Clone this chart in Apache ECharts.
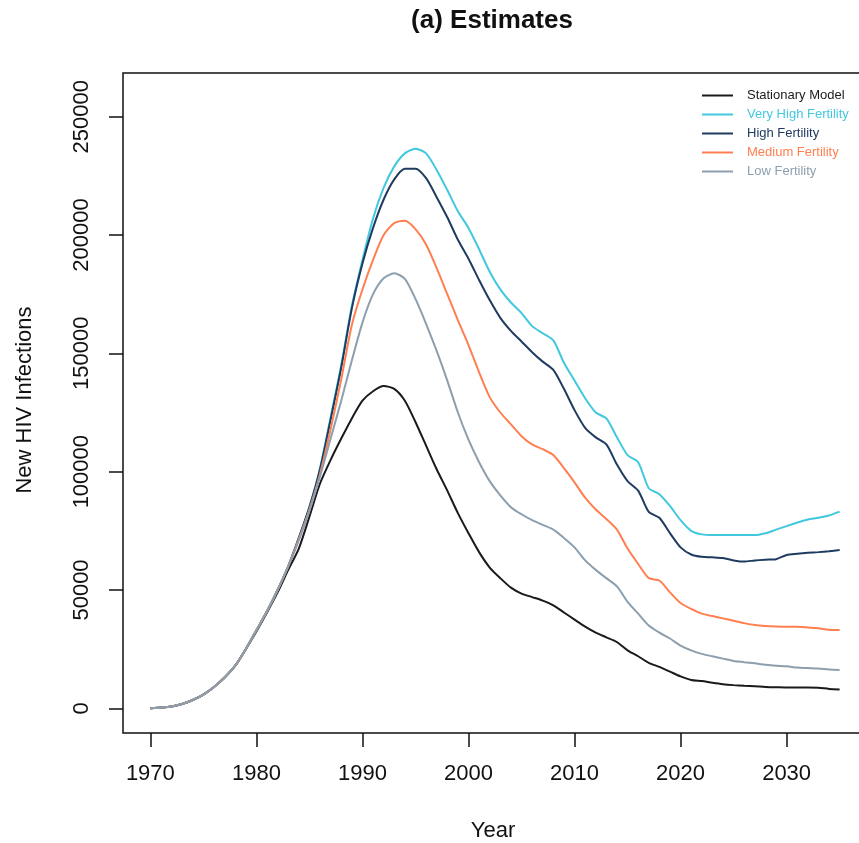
<!DOCTYPE html>
<html><head><meta charset="utf-8">
<script src="https://cdn.jsdelivr.net/npm/echarts@6/dist/echarts.min.js"></script>
<style>html,body{margin:0;padding:0;background:#fff;overflow:hidden;width:859px;height:843px}#main{width:880px;height:843px}</style>
</head><body><div id="main"></div>
<script>
const years = [1970,1971,1972,1973,1974,1975,1976,1977,1978,1979,1980,1981,1982,1983,1984,1985,1986,1987,1988,1989,1990,1991,1992,1993,1994,1995,1996,1997,1998,1999,2000,2001,2002,2003,2004,2005,2006,2007,2008,2009,2010,2011,2012,2013,2014,2015,2016,2017,2018,2019,2020,2021,2022,2023,2024,2025,2026,2027,2028,2029,2030,2031,2032,2033,2034,2035];
const xTicks = [1970,1980,1990,2000,2010,2020,2030];
const yTicks = [0,50000,100000,150000,200000,250000];
const stationary = [0,300,800,1800,3500,5800,9000,13000,18000,25000,32500,40500,49000,58500,
 67500,81000,95000,105000,114000,122500,130000,134000,136200,135000,130000,121000,111000,101000,92000,82500,
 74000,66000,59500,55000,51000,48500,47000,45500,43500,40500,37500,34500,32000,30000,28000,24500,22000,19200,17500,15500,
 13500,12000,11500,10800,10200,9800,9500,9300,9000,8900,8800,8800,8800,8700,8200,8000];
const veryHigh = [0,300,800,1800,3500,5800,9000,13000,18000,25000,33000,41000,50000,60000,
 72000,85000,101500,123000,145000,170000,189500,207000,220000,229000,234500,236500,234500,227500,219000,210000,
 203000,194000,184500,177000,171500,167000,161500,158500,155500,146000,138500,131000,125000,122500,114500,107000,104000,93000,90500,85500,
 79500,75000,73500,73200,73200,73200,73200,73200,74000,75500,77000,78500,79800,80500,81500,83100];
const high = [0,300,800,1800,3500,5800,9000,13000,18000,25000,33000,41000,50000,60000,
 72000,85000,101000,122000,144000,169000,188000,203000,215000,223500,228000,228000,224000,216000,207500,198000,
 190000,181000,172500,165000,159500,155000,150500,146500,143000,135000,126000,118500,114500,111500,103000,96000,92000,83000,80500,74000,
 68000,65000,64000,63800,63500,62500,62000,62500,62800,63000,64800,65300,65700,66000,66400,66900];
const medium = [0,300,800,1800,3500,5800,9000,13000,18000,25000,33000,41000,50000,60000,
 71500,84000,99000,118000,139000,162000,177000,189500,200000,205000,206000,202500,196000,186000,175000,164000,
 153500,142000,131500,125000,120000,115000,111500,109500,107000,101500,95500,89000,84000,80000,75500,67500,61000,55000,54000,49000,
 44500,42000,40000,39000,38000,37000,36000,35200,34800,34600,34500,34500,34200,33800,33200,33100];
const low = [0,300,800,1800,3500,5800,9000,13000,18000,25000,33000,41000,50000,60000,
 71000,83500,98000,114000,130000,147000,163000,175000,181700,183800,181500,173000,162500,151000,138500,125000,
 113500,104000,96000,90000,85000,82000,79500,77500,75500,72000,68000,62500,58500,55000,51500,45000,40000,35000,32000,29500,
 26500,24500,23000,22000,21000,20000,19500,19000,18400,18000,17800,17200,17000,16800,16400,16200];

const seriesDefs = [
  {name:'Stationary Model', data:stationary, color:'#1a1a1a'},
  {name:'Very High Fertility', data:veryHigh, color:'#41c8df'},
  {name:'High Fertility', data:high, color:'#1f3b60'},
  {name:'Medium Fertility', data:medium, color:'#ff7f50'},
  {name:'Low Fertility', data:low, color:'#8c9fae'}
];
const FONT = 'Liberation Sans, Arial, sans-serif';
const chart = echarts.init(document.getElementById('main'), null, {renderer:'canvas'});
chart.setOption({
  animation:false,
  backgroundColor:'#fff',
  grid:{left:123, top:73, width:744, height:660, show:true, borderColor:'#111', borderWidth:1.5, backgroundColor:'transparent'},
  xAxis:{type:'value', min:1967.42, max:2037.58, position:'bottom',
    axisLine:{show:false, onZero:false},
    splitLine:{show:false},
    axisTick:{show:true, length:14, inside:false, lineStyle:{color:'#111', width:1.5}, customValues:xTicks},
    axisLabel:{customValues:xTicks, fontSize:22, fontFamily:FONT, color:'#111', margin:30, formatter:v=>String(v)}
  },
  yAxis:{type:'value', min:-10430, max:268460, position:'left',
    axisLine:{show:false, onZero:false},
    splitLine:{show:false},
    axisTick:{show:true, length:14, inside:false, lineStyle:{color:'#111', width:1.5}, customValues:yTicks},
    axisLabel:{customValues:yTicks, fontSize:22, fontFamily:FONT, color:'#111', margin:30, rotate:90, formatter:v=>String(v)}
  },
  legend:{orient:'vertical', left:697, top:83, itemWidth:31, itemHeight:2, itemGap:4, icon:'rect',
    textStyle:{fontSize:13, fontFamily:FONT, lineHeight:15, padding:[0,0,0,9]},
    data:seriesDefs.map(s=>({name:s.name, textStyle:{color:s.color}}))
  },
  graphic:[
    {type:'text', x:492, y:21, style:{text:'(a) Estimates', font:'bold 26px '+FONT, fill:'#111', align:'center', verticalAlign:'middle', textAlign:'center', textVerticalAlign:'middle'}},
    {type:'text', x:493, y:831, style:{text:'Year', font:'22px '+FONT, fill:'#111', align:'center', verticalAlign:'middle', textAlign:'center', textVerticalAlign:'middle'}},
    {type:'text', x:25, y:400, rotation:Math.PI/2, style:{text:'New HIV Infections', font:'22px '+FONT, fill:'#111', align:'center', verticalAlign:'middle', textAlign:'center', textVerticalAlign:'middle'}}
  ],
  series:seriesDefs.map(s=>({
    name:s.name, type:'line', showSymbol:false, smooth:0.25,
    data:years.map((y,i)=>[y, s.data[i]]),
    lineStyle:{color:s.color, width:2}, itemStyle:{color:s.color}
  }))
});
</script></body></html>
